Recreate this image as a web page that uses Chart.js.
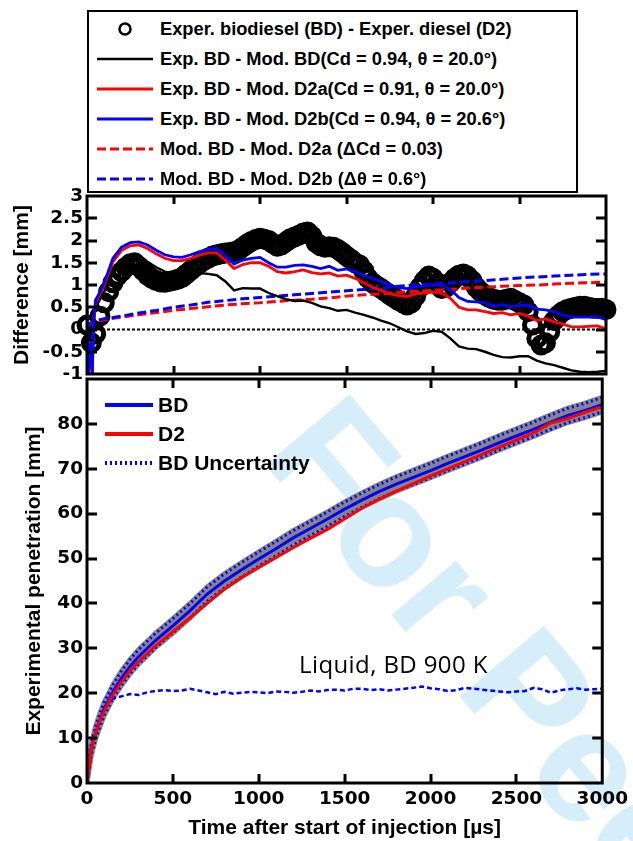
<!DOCTYPE html>
<html>
<head>
<meta charset="utf-8">
<script src="https://cdn.jsdelivr.net/npm/chart.js@4/dist/chart.umd.min.js"></script>
<style>
  html, body { margin:0; padding:0; background:#fff; }
  #page { position:relative; width:633px; height:841px; overflow:hidden; background:#fff; font-family:'Liberation Sans', Arial, sans-serif; }
  #wm { position:absolute; left:362px; top:370px; font-family:'Liberation Sans', Arial, sans-serif; font-weight:bold; font-size:160px; line-height:160px; color:#d6eefa; white-space:nowrap; transform-origin:0 0; transform:rotate(50deg); z-index:0; }
  canvas { position:absolute; left:0; top:0; z-index:1; }
  #legTop { position:absolute; left:87px; top:10px; width:491px; height:183px; border:2px solid #000; box-sizing:border-box; background:#fff; z-index:2; }
  .row { position:absolute; height:30px; white-space:nowrap; }
  .row svg { position:absolute; top:0; }
  .row span { position:absolute; top:0; line-height:30px; font-weight:bold; color:#000; }
  #legBot { position:absolute; left:0; top:0; z-index:2; }
  #liq { position:absolute; left:299px; top:652px; font-family:'Open Sans', Lato, sans-serif; font-size:24px; line-height:24px; letter-spacing:0.4px; color:#000; white-space:nowrap; z-index:2; }
</style>
</head>
<body>
<div id="page">
  <div id="wm">For Peer Review</div>
  <canvas id="cTop" width="633" height="841"></canvas>
  <canvas id="cBot" width="633" height="841"></canvas>
  <div id="legTop"></div>
  <div id="legBot"></div>
  <div id="liq">Liquid, BD 900 K</div>
</div>
<script>
// ---------------- TOP PANEL DATA (Difference [mm]) ----------------
const topLabels = [
  'Exper. biodiesel (BD) - Exper. diesel (D2)',
  'Exp. BD - Mod. BD(Cd = 0.94, \u03b8 = 20.0\u00b0)',
  'Exp. BD - Mod. D2a(Cd = 0.91, \u03b8 = 20.0\u00b0)',
  'Exp. BD - Mod. D2b(Cd = 0.94, \u03b8 = 20.6\u00b0)',
  'Mod. BD - Mod. D2a (\u0394Cd = 0.03)',
  'Mod. BD - Mod. D2b (\u0394\u03b8 = 0.6\u00b0)'
];

const tCirc = [0,25,50,75,100,125,150,175,200,225,250,275,300,325,350,375,400,425,450,475,
  500,525,550,575,600,625,650,675,700,725,750,775,800,825,850,875,900,925,950,975,
  1000,1025,1050,1075,1100,1125,1150,1175,1200,1225,1250,1275,1300,1325,1350,1375,1400,1425,1450,1475,
  1500,1525,1550,1575,1600,1625,1650,1675,1700,1725,1750,1775,1800,1825,1850,1875,1900,1925,1950,1975,
  2000,2025,2050,2075,2100,2125,2150,2175,2200,2225,2250,2275,2300,2325,2350,2375,2400,2425,2450,2475,
  2500,2525,2550,2575,2600,2625,2650,2675,2700,2725,2750,2775,2800,2825,2850,2875,2900,2925,2950,2975,3000];
const expDiff = [0.1,-0.3,-0.1,0.3,0.6,0.85,1.05,1.2,1.3,1.4,1.48,1.5,1.42,1.32,1.22,1.15,1.1,1.07,1.06,1.08,
  1.1,1.13,1.17,1.25,1.33,1.41,1.48,1.55,1.6,1.65,1.68,1.7,1.72,1.73,1.75,1.78,1.85,1.92,1.98,2.02,
  2.05,2.03,2.0,1.93,1.87,1.9,1.97,2.04,2.08,2.12,2.17,2.19,2.1,1.95,1.88,1.85,1.86,1.85,1.8,1.73,
  1.65,1.58,1.5,1.45,1.32,1.15,1.05,0.98,0.92,0.85,0.78,0.72,0.65,0.6,0.55,0.6,0.75,0.95,1.1,1.2,
  1.15,1.05,0.92,0.95,1.05,1.15,1.22,1.25,1.2,1.1,0.95,0.85,0.78,0.72,0.68,0.66,0.66,0.68,0.7,0.65,
  0.6,0.55,0.4,0.1,-0.2,-0.35,-0.3,-0.05,0.2,0.32,0.4,0.45,0.48,0.5,0.52,0.52,0.5,0.48,0.47,0.48,0.45];

const tSolid = [0,8,20,30,40,50,100,150,200,250,300,350,400,450,500,550,600,650,700,750,
  800,850,900,950,1000,1050,1100,1150,1200,1250,1300,1350,1400,1450,1500,1550,1600,1650,1700,1750,
  1800,1850,1900,1950,2000,2050,2100,2150,2200,2250,2300,2350,2400,2450,2500,2550,2600,2650,2700,2750,
  2800,2850,2900,2950,3000];
const diffModBD = [0.3,-1.0,-0.3,-1.0,0.2,0.5,0.85,1.3,1.5,1.6,1.62,1.52,1.4,1.3,1.25,1.22,1.25,1.27,1.25,1.22,
  1.08,0.88,0.93,0.92,0.92,0.82,0.75,0.68,0.64,0.65,0.6,0.52,0.48,0.42,0.44,0.38,0.33,0.27,0.2,0.14,
  0.05,-0.04,-0.1,-0.08,-0.03,-0.05,-0.2,-0.38,-0.43,-0.44,-0.5,-0.57,-0.62,-0.63,-0.6,-0.6,-0.7,-0.76,-0.8,-0.86,
  -0.92,-0.95,-0.96,-0.95,-0.93];
const diffModD2a = [0.4,-1.0,-0.3,-1.0,0.25,0.6,1.0,1.52,1.78,1.88,1.9,1.82,1.7,1.6,1.55,1.55,1.6,1.67,1.72,1.72,
  1.56,1.37,1.46,1.5,1.5,1.42,1.3,1.27,1.3,1.34,1.28,1.25,1.27,1.2,1.22,1.15,1.05,0.95,0.88,0.8,
  0.76,0.74,0.8,0.82,0.84,0.82,0.7,0.5,0.44,0.44,0.4,0.36,0.38,0.33,0.36,0.3,0.2,0.24,0.17,0.12,
  0.06,0.06,0.07,0.08,0.02];
const diffModD2b = [0.5,-1.0,-0.3,-1.0,0.3,0.65,1.05,1.6,1.85,1.95,1.97,1.9,1.78,1.68,1.63,1.62,1.68,1.75,1.8,1.82,
  1.66,1.47,1.56,1.6,1.62,1.5,1.4,1.4,1.44,1.45,1.42,1.37,1.42,1.33,1.36,1.3,1.22,1.15,1.08,1.0,
  0.94,0.92,0.96,0.98,1.0,1.0,0.9,0.72,0.63,0.62,0.6,0.52,0.56,0.51,0.54,0.55,0.46,0.44,0.4,0.33,
  0.28,0.28,0.28,0.29,0.22];

const tDash = [0,50,100,200,300,400,500,600,700,800,900,1000,1100,1200,1300,1400,1500,1600,1700,1800,
  1900,2000,2100,2200,2300,2400,2500,2600,2700,2800,2900,3000];
const modD2aDiff = [0.08,0.18,0.22,0.28,0.33,0.38,0.43,0.47,0.51,0.55,0.58,0.6,0.63,0.66,0.68,0.71,0.75,0.78,0.8,0.83,
  0.86,0.88,0.9,0.93,0.95,0.97,0.99,1.0,1.02,1.04,1.05,1.07];
const modD2bDiff = [0.1,0.2,0.24,0.3,0.37,0.43,0.5,0.55,0.61,0.65,0.69,0.72,0.75,0.78,0.81,0.84,0.87,0.9,0.93,0.97,
  1.0,1.02,1.05,1.08,1.1,1.13,1.16,1.18,1.2,1.22,1.24,1.25];

const tZero = [0,3000];
const zeroRef = [0,0];

const diffTicks = { min:-1, max:3, step:0.5 };
const timeTicks = { min:0, max:3000, step:500 };

// ---------------- BOTTOM PANEL DATA (penetration [mm]) ----------------
const botLabels = ['BD','D2','BD Uncertainty'];
const tPen = [0,25,50,75,100,150,200,250,300,400,500,600,700,800,900,1000,1100,1200,1300,1400,
  1500,1600,1700,1800,1900,2000,2100,2200,2300,2400,2500,2600,2700,2800,2900,3000];
const penBD = [0,7.5,11.2,14.0,16.5,20.3,23.3,25.9,28.1,31.8,35.0,38.4,42.1,45.0,47.5,49.9,52.2,54.6,56.7,58.8,
  61.0,63.0,64.9,66.6,68.1,69.6,71.2,72.7,74.2,75.8,77.3,78.8,80.4,81.9,83.0,84.3];
const penD2 = [0,7.3,11.0,13.8,16.0,19.6,22.5,25.0,27.0,30.6,33.7,36.8,40.0,43.2,45.8,48.0,50.2,52.4,54.5,56.5,
  58.8,61.2,63.2,65.0,66.7,68.4,70.0,71.6,73.2,74.8,76.4,78.0,80.2,81.2,82.6,83.8];
const penBDUpper = [0.5,8.8,12.6,15.5,18.0,21.8,24.9,27.5,29.7,33.4,36.6,40.0,43.7,46.6,49.1,51.5,53.8,56.2,58.3,60.4,
  62.6,64.6,66.5,68.2,69.7,71.2,72.8,74.3,75.8,77.4,78.9,80.4,82.0,83.5,84.6,85.9];
const penBDLower = [0,6.2,9.8,12.5,15.0,18.8,21.7,24.3,26.5,30.2,33.4,36.8,40.5,43.4,45.9,48.3,50.6,53.0,55.1,57.2,
  59.4,61.4,63.3,65.0,66.5,68.0,69.6,71.1,72.6,74.2,75.7,77.2,78.8,80.3,81.4,82.7];

const tLiq = [0,25,50,75,100,125,150,200,250,300,350,400,450,500,550,600,650,700,750,800,
  850,900,950,1000,1050,1100,1150,1200,1250,1300,1350,1400,1450,1500,1550,1600,1650,1700,1750,1800,
  1850,1900,1950,2000,2050,2100,2150,2200,2250,2300,2350,2400,2450,2500,2550,2600,2650,2700,2750,2800,
  2850,2900,2950,3000];
const liqLen = [0,7.3,11,14,16.3,17.8,18.8,19.3,19.8,19.6,20.2,20.5,20.7,20.5,20.6,21.0,20.6,20.2,19.8,20.3,
  19.9,20.1,20.3,20.2,20.0,20.4,20.3,20.1,20.3,20.6,20.4,20.7,20.8,20.6,21.0,21.0,20.7,20.9,20.6,20.8,
  21.0,21.2,21.5,21.1,20.9,20.5,20.7,21.2,21.0,20.8,20.6,20.4,20.2,20.4,20.5,21.2,20.9,20.1,20.6,20.9,
  21.1,20.8,20.9,21.0];
const liqLabel = 'Liquid, BD 900 K';
const penTicks = { min:0, max:90, step:10 };

// ---------------- helpers ----------------
const xy = (ts, vs) => ts.map((t, i) => ({ x: t, y: vs[i] }));
const FONT = "'Liberation Sans', Arial, Helvetica, sans-serif";
const TICKFONT = { family: "'DejaVu Sans', 'Liberation Sans', sans-serif", size: 18.5, weight: 'bold' };
Chart.defaults.font.family = FONT;
Chart.defaults.font.weight = 'bold';
Chart.defaults.font.size = 20;
Chart.defaults.color = '#000';

const frameTicks = {
  id: 'frameTicks',
  afterDatasetsDraw(chart, args, o) {
    const { ctx, chartArea: a, scales: { x, y } } = chart;
    ctx.save();
    ctx.strokeStyle = '#000';
    ctx.lineWidth = o.lw;
    ctx.setLineDash([]);
    ctx.beginPath();
    x.ticks.forEach(t => {
      if (t.value <= x.min || t.value >= x.max) return;
      const p = Math.round(x.getPixelForValue(t.value));
      ctx.moveTo(p, a.top); ctx.lineTo(p, a.top + o.xl);
      ctx.moveTo(p, a.bottom); ctx.lineTo(p, a.bottom - o.xl);
    });
    y.ticks.forEach(t => {
      if (t.value <= y.min || t.value >= y.max) return;
      const p = Math.round(y.getPixelForValue(t.value));
      ctx.moveTo(a.left, p); ctx.lineTo(a.left + o.yl, p);
      ctx.moveTo(a.right, p); ctx.lineTo(a.right - o.yl, p);
    });
    ctx.stroke();
    ctx.strokeRect(a.left, a.top, a.right - a.left, a.bottom - a.top);
    ctx.restore();
  }
};

const lineDs = (label, ts, vs, color, width, dash, order) => ({
  label, data: xy(ts, vs), borderColor: color, backgroundColor: color, borderWidth: width,
  borderDash: dash || [], pointRadius: 0, fill: false, tension: 0, order
});

// ---------------- TOP CHART ----------------
const topChart = new Chart(document.getElementById('cTop'), {
  type: 'line',
  data: {
    datasets: [
      { label: topLabels[0], data: xy(tCirc, expDiff), showLine: false, pointStyle: 'circle', pointRadius: 8,
        pointBorderWidth: 5, pointBorderColor: '#000', pointBackgroundColor: 'rgba(0,0,0,0)', borderColor: '#000',
        order: 10, clip: false, _legendType: 'circle' },
      lineDs(topLabels[1], tSolid, diffModBD, '#000000', 2.4, null, 3),
      lineDs(topLabels[2], tSolid, diffModD2a, '#ff0000', 2.8, null, 2),
      lineDs(topLabels[3], tSolid, diffModD2b, '#0000ff', 2.8, null, 1),
      lineDs(topLabels[4], tDash, modD2aDiff, '#ff0000', 3, [9, 4], 5),
      lineDs(topLabels[5], tDash, modD2bDiff, '#0000ff', 3, [9, 4], 4),
      Object.assign(lineDs('zero', tZero, zeroRef, '#000000', 2, [3, 2], 9), { _noLegend: true })
    ]
  },
  options: {
    responsive: false, animation: false, events: [],
    layout: { padding: { left: 0, right: 27, top: 196, bottom: 467 } },
    plugins: { legend: { display: false }, tooltip: { enabled: false }, frameTicks: { lw: 3, xl: 8, yl: 10 } },
    scales: {
      x: { type: 'linear', min: timeTicks.min, max: timeTicks.max,
           ticks: { display: false, stepSize: timeTicks.step },
           grid: { display: false, drawTicks: false }, border: { display: false },
           afterFit(s) { s.height = 0; } },
      y: { type: 'linear', min: diffTicks.min, max: diffTicks.max,
           ticks: { stepSize: diffTicks.step, padding: 4, autoSkip: false, font: TICKFONT, callback: v => String(v) },
           grid: { display: false, drawTicks: false }, border: { display: false },
           title: { display: true, text: 'Difference [mm]', font: { size: 21, weight: 'bold' }, padding: { top: 10, bottom: 0 } },
           afterFit(s) { s.width = 87; } }
    }
  },
  plugins: [frameTicks]
});

// ---------------- BOTTOM CHART ----------------
const gray = '#858585';
const botChart = new Chart(document.getElementById('cBot'), {
  type: 'line',
  data: {
    datasets: [
      Object.assign(lineDs('band+', tPen, penBDUpper, gray, 5, null, 12), { _noLegend: true }),
      Object.assign(lineDs('band-', tPen, penBDLower, gray, 5, null, 11), { fill: '-1', backgroundColor: gray, _noLegend: true }),
      lineDs(botLabels[0], tPen, penBD, '#0000ff', 3, null, 2),
      lineDs(botLabels[1], tPen, penD2, '#ff0000', 3, null, 1),
      lineDs(botLabels[2], tPen, penBDUpper, '#0000ff', 3, [2, 3], 5),
      Object.assign(lineDs(botLabels[2], tPen, penBDLower, '#0000ff', 3, [2, 3], 5), { _noLegend: true }),
      Object.assign(lineDs(liqLabel, tLiq, liqLen, '#0000ff', 2.5, [5, 3], 4), { _noLegend: true })
    ]
  },
  options: {
    responsive: false, animation: false, events: [],
    layout: { padding: { left: 0, right: 27, top: 379, bottom: 0 } },
    plugins: { legend: { display: false }, tooltip: { enabled: false }, frameTicks: { lw: 3, xl: 9, yl: 10 } },
    scales: {
      x: { type: 'linear', min: timeTicks.min, max: timeTicks.max,
           ticks: { stepSize: timeTicks.step, padding: 5, maxRotation: 0, autoSkip: false, font: TICKFONT, callback: v => String(v) },
           grid: { display: false, drawTicks: false }, border: { display: false },
           title: { display: true, text: 'Time after start of injection [\u00b5s]', font: { size: 21, weight: 'bold' }, padding: { top: 0, bottom: 0 } },
           afterFit(s) { s.height = 58; } },
      y: { type: 'linear', min: penTicks.min, max: penTicks.max,
           ticks: { stepSize: penTicks.step, padding: 4, autoSkip: false, font: TICKFONT, callback: v => (v >= penTicks.max ? '' : String(v)) },
           grid: { display: false, drawTicks: false }, border: { display: false },
           title: { display: true, text: 'Experimental penetration [mm]', font: { size: 21, weight: 'bold' }, padding: { top: 22, bottom: 0 } },
           afterFit(s) { s.width = 87; } }
    }
  },
  plugins: [frameTicks]
});

// ---------------- HTML legends built from the chart datasets ----------------
function sample(ds, w, h, sw) {
  if (ds._legendType === 'circle') {
    return `<circle cx="${w / 2}" cy="${h / 2}" r="5.5" fill="none" stroke="#000" stroke-width="2.5"/>`;
  }
  const dash = ds.borderDash && ds.borderDash.length ? `stroke-dasharray="${ds.borderDash.join(',')}"` : '';
  return `<line x1="0" y1="${h / 2}" x2="${w}" y2="${h / 2}" stroke="${ds.borderColor}" stroke-width="${sw || ds.borderWidth}" ${dash}/>`;
}
(function () {
  const box = document.getElementById('legTop');
  let html = '';
  topChart.data.datasets.filter(d => !d._noLegend).forEach((ds, i) => {
    const top = 2 + 30 * i;
    html += `<div class="row" style="left:0;top:${top}px;width:480px;">
      <svg style="left:8px" width="56" height="30">${sample(ds, 56, 30)}</svg>
      <span style="left:71px;font-size:18.3px;">${ds.label}</span></div>`;
  });
  box.innerHTML = html;

  const lb = document.getElementById('legBot');
  let h2 = '';
  botChart.data.datasets.filter(d => !d._noLegend).forEach((ds, i) => {
    const top = 390 + 29 * i;
    h2 += `<div class="row" style="left:0;top:${top}px;width:400px;">
      <svg style="left:105px" width="48" height="30">${sample(ds, 48, 30, 4)}</svg>
      <span style="left:158px;font-size:21px;">${ds.label}</span></div>`;
  });
  lb.innerHTML = h2;
})();
</script>
</body>
</html>
